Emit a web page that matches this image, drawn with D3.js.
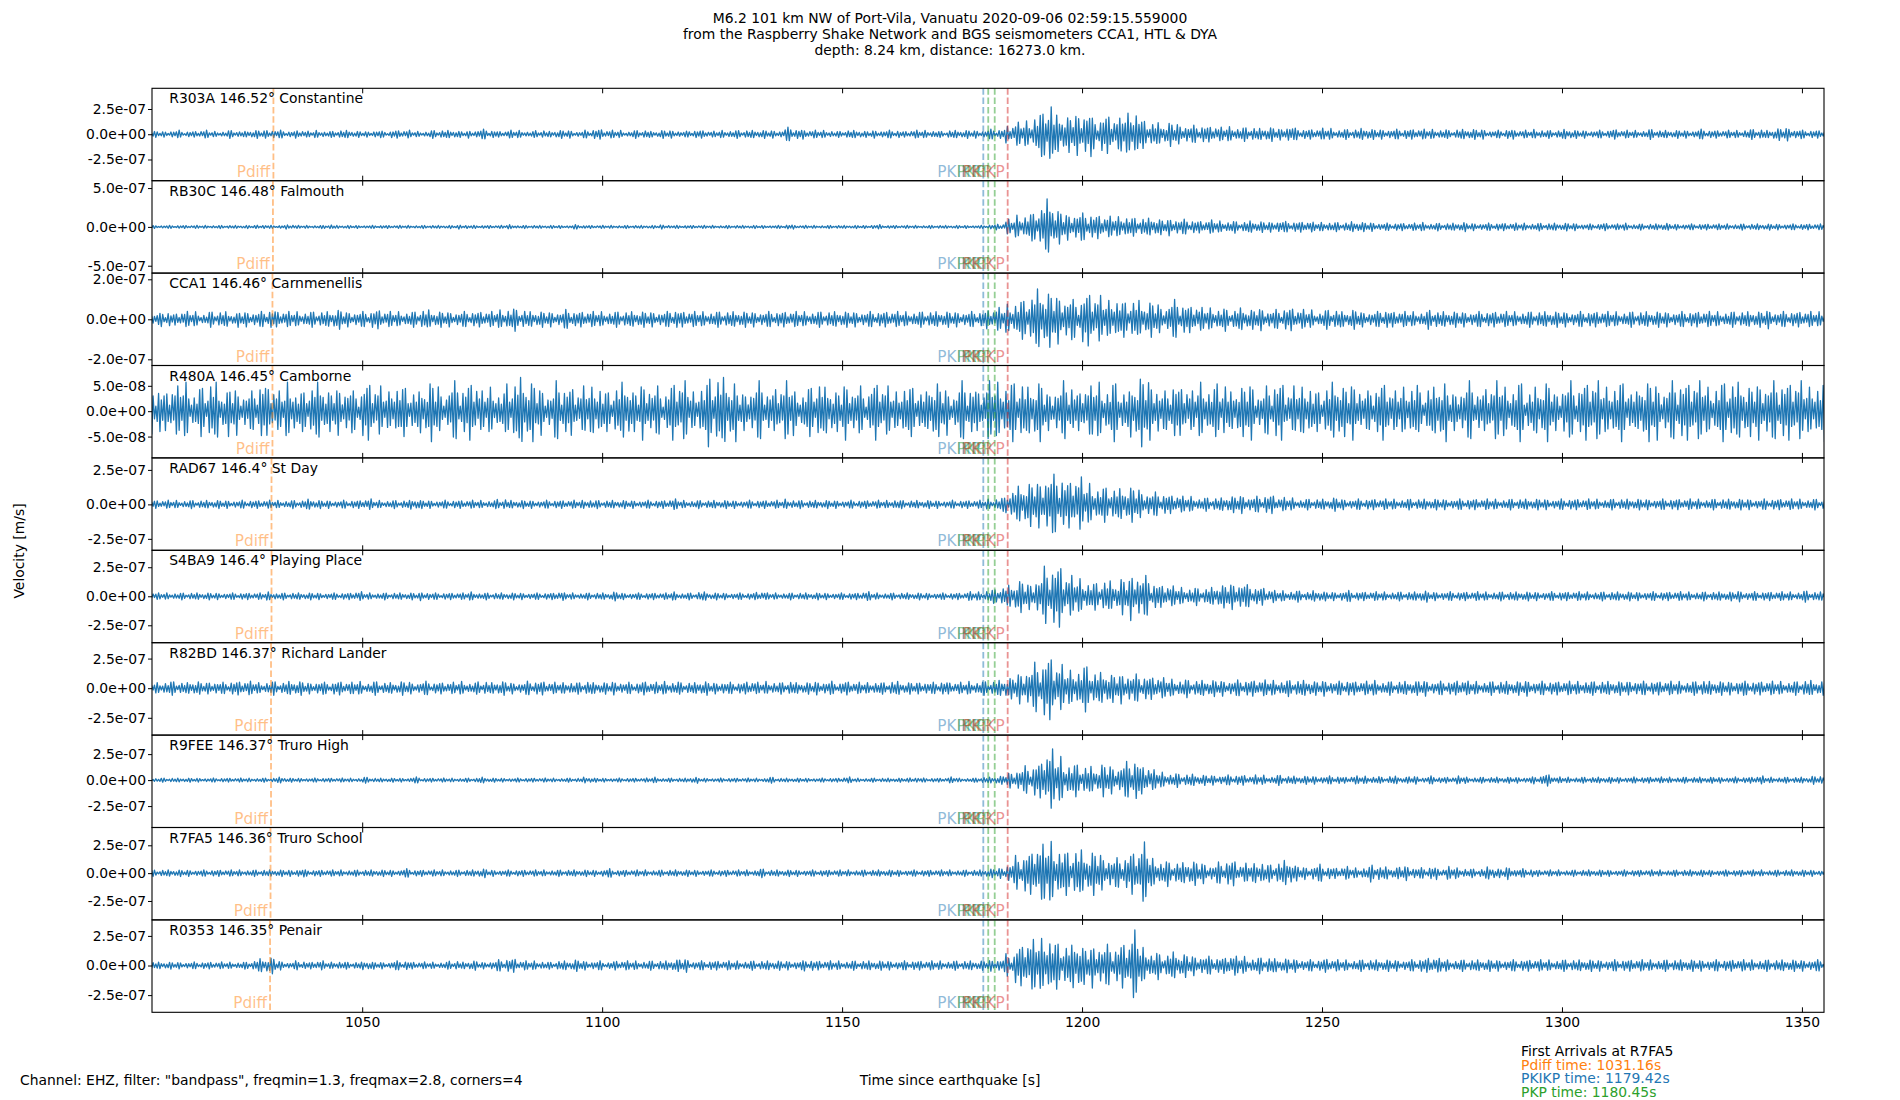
<!DOCTYPE html>
<html><head><meta charset="utf-8">
<script src="https://cdn.jsdelivr.net/npm/d3@7"></script>
<style>
body{margin:0;background:#fff;}
svg{display:block;}
text{font-family:"DejaVu Sans",sans-serif;}
</style>
</head><body>
<svg id="chart" width="1900" height="1100"></svg>
<script>
// ---------------- DATA ----------------
const titleLines = [
  "M6.2 101 km NW of Port-Vila, Vanuatu 2020-09-06 02:59:15.559000",
  "from the Raspberry Shake Network and BGS seismometers CCA1, HTL & DYA",
  "depth: 8.24 km, distance: 16273.0 km."
];
const stations  = ["R303A","RB30C","CCA1","R480A","RAD67","S4BA9","R82BD","R9FEE","R7FA5","R0353"];
const distances = ["146.52","146.48","146.46","146.45","146.4","146.4","146.37","146.37","146.36","146.35"];
const places    = ["Constantine","Falmouth","Carnmenellis","Camborne","St Day","Playing Place","Richard Lander","Truro High","Truro School","Penair"];
const pdiffTimes = [1031.5,1031.4,1031.3,1031.3,1031.1,1031.1,1031.0,1031.0,1030.9,1030.8];
const phaseNames = ["PKIKP","PKP","PKP","PKiKP"];
const phaseTimes = [1179.42,1180.45,1181.8,1184.5];
const phaseColors = ["#1f77b4","#2ca02c","#2ca02c","#d62728"];
// y-limits per panel (units of 1e-8 m/s)
const yMins = [-46,-59.5,-23.1,-9.2,-33.3,-40,-39.6,-45.6,-42,-39.5];
const yMaxs = [45.5,59.5,23.1,9.0,33.7,39.6,38.4,43.3,41,38.5];
// y tick values per panel (m/s)
const yTicks = [
  [-2.5e-7,0,2.5e-7],[-5e-7,0,5e-7],[-2e-7,0,2e-7],[-5e-8,0,5e-8],[-2.5e-7,0,2.5e-7],
  [-2.5e-7,0,2.5e-7],[-2.5e-7,0,2.5e-7],[-2.5e-7,0,2.5e-7],[-2.5e-7,0,2.5e-7],[-2.5e-7,0,2.5e-7]
];
const xTicks = [1050,1100,1150,1200,1250,1300,1350];
const timeStart = 1006.2, timeEnd = 1354.6, binStart = 1006, binSeconds = 2, peaksPerBin = 7;
// relative peak heights of successive half-cycles (wave-packet texture)
const peakShape = [0.35,0.6,0.9,1.0,0.75,0.45,0.3,0.5,0.8,0.95,0.7,0.4,0.25,0.3,0.55,0.65,0.5,0.35,0.6,
  0.85,1.0,0.9,0.6,0.3,0.2,0.4,0.7,0.8,0.55,0.45,0.75,0.95,0.85,0.5,0.3,0.45,0.65];
// trace envelope amplitude per 2 s bin, units of 1e-8 m/s
const env_R303A = [3,3,4,3,3,4,3,3,4,3, 4,4,5,4,3,4,3,4,3,4, 4,3,3,4,3,4,4,3,3,4, 4,4,3,4,5,4,3,4,4,3,
 4,3,4,4,3,4,5,4,4,3, 4,4,3,4,4,3,4,4,3,4, 4,4,4,4,4,4,7,5,4,4, 4,3,4,4,3,4,4,4,3,4,
 4,4,3,4,4,4,4,5,5,9, 12,14,22,34,20,18,22,26,16,20, 16,22,28,14,12,10,12,10,9,9, 8,7,8,7,7,6,7,6,9,6,
 5,5,6,5,5,5,6,5,5,5, 5,5,5,5,5,4,5,5,5,4, 4,5,4,4,5,4,4,5,4,4, 4,4,5,4,4,4,5,4,4,4,
 4,5,4,4,4,4,5,5,4,6, 7,5,4,4,4];
const env_RB30C = [2,2,2,2,2,2,2,2,2,2, 2,3,2,2,3,2,2,2,3,2, 2,2,2,2,2,2,2,2,2,2, 2,2,3,2,2,2,2,3,2,2,
 2,2,2,2,3,2,2,2,2,2, 2,2,2,3,2,2,2,2,2,2, 2,2,2,2,2,2,3,2,2,2, 2,2,2,2,2,3,2,2,2,2,
 2,2,2,2,2,2,2,3,4,10, 16,18,26,38,22,18,20,18,16,14, 14,16,12,12,12,10,12,10,9,8, 9,8,8,7,8,7,7,9,7,7,
 7,6,7,6,6,7,6,6,5,5, 5,5,6,5,5,5,6,5,5,5, 5,5,5,5,5,5,5,5,5,4, 4,5,4,5,4,4,4,5,4,4,
 4,4,4,4,4,4,4,4,4,4, 4,4,4,4,4];
const env_CCA1 = [3,4,3,4,4,3,4,4,3,4, 4,4,5,4,4,4,4,4,4,5, 4,4,4,5,4,4,4,4,5,4, 4,4,4,4,4,4,5,6,5,4,
 4,4,4,5,4,4,4,4,4,4, 4,4,4,4,5,4,4,4,4,4, 4,4,4,4,4,4,4,4,4,4, 4,4,4,4,4,4,4,4,4,4,
 4,4,4,4,4,4,4,5,6,8, 10,12,16,14,13,12,10,14,12,10, 12,9,10,8,9,7,10,8,7,6, 6,6,5,6,5,6,5,5,6,5,
 5,4,5,5,4,5,4,4,5,4, 4,4,4,5,4,4,4,4,4,4, 4,4,4,4,4,4,4,4,4,4, 4,4,4,4,4,4,4,4,4,4,
 4,4,4,4,4,4,4,4,5,4, 4,4,4,4,4];
const env_R480A = [5,4,5,6,4,5,6,4,5,4, 4,6,5,4,6,4,5,6,4,5, 5,4,6,5,4,6,5,4,5,6, 4,6,5,6,4,5,4,6,7,6,
 5,4,6,5,4,5,6,4,5,6, 4,6,5,4,6,6,4,6,7,7, 6,4,5,6,4,5,6,4,5,6, 5,4,6,5,4,6,5,4,6,5,
 4,6,5,4,6,5,4,6,6,6, 6,5,6,4,5,6,4,5,6,5, 6,4,6,7,6,4,6,5,4,6, 5,6,4,5,6,4,5,6,4,5,
 6,4,5,6,5,6,4,5,6,4, 5,6,4,5,6,4,5,6,4,5, 6,5,6,4,5,6,4,6,5,6, 6,5,6,6,4,6,6,5,6,6,
 6,6,5,6,6,6,5,6,6,6, 6,6,5,6,6];
const env_RAD67 = [3,3,3,3,3,3,3,3,3,3, 3,3,3,3,3,3,4,3,3,3, 3,3,4,3,3,3,3,4,3,3, 3,3,3,3,3,3,4,3,3,3,
 3,3,3,3,3,4,3,3,3,3, 3,3,3,3,4,3,3,3,3,3, 3,3,3,3,3,3,4,3,3,3, 3,3,3,3,3,3,3,4,3,3,
 3,3,3,3,3,3,3,4,5,10, 14,16,18,24,22,18,20,16,14,13, 12,12,13,10,9,8,7,6,6,5, 5,5,6,7,6,6,7,5,5,4,
 4,4,4,5,4,4,4,4,4,4, 4,4,4,4,4,4,4,4,4,4, 4,4,4,4,4,4,4,4,4,4, 4,4,4,4,4,4,4,4,4,4,
 4,4,4,4,4,4,4,4,4,4, 4,4,4,4,4];
const env_S4BA9 = [3,3,3,3,3,3,3,3,3,3, 3,3,4,3,3,3,3,3,3,3, 3,4,3,3,3,3,3,3,4,3, 3,3,3,4,3,3,3,3,3,3,
 3,3,4,3,3,3,3,3,4,3, 3,3,3,3,4,3,3,4,3,3, 3,3,3,4,3,3,3,3,3,3, 3,3,3,3,4,3,3,3,3,3,
 3,3,3,3,3,4,4,6,8,10, 14,12,18,26,28,18,16,14,12,14, 12,16,22,18,12,10,9,8,8,7, 8,10,12,13,10,8,6,5,5,5,
 4,5,4,4,5,4,4,4,4,4, 4,4,5,4,4,4,4,4,4,4, 4,4,4,4,4,4,4,4,4,4, 4,4,4,4,4,4,4,4,4,4,
 4,4,4,4,4,5,4,4,4,4, 4,4,5,4,4];
const env_R82BD = [5,6,6,5,6,5,6,5,6,6, 6,5,6,5,6,6,5,6,5,6, 5,6,5,6,5,5,6,5,6,5, 5,5,6,5,6,5,6,5,5,6,
 6,5,5,6,5,6,5,5,6,5, 5,6,5,6,6,5,5,6,5,6, 5,5,6,5,6,5,6,5,5,6, 6,5,6,5,5,6,5,6,5,5,
 6,5,6,5,5,6,6,6,7,9, 14,18,22,28,20,16,18,20,14,14, 12,14,12,11,10,9,8,8,7,7, 7,7,7,7,7,7,7,7,7,7,
 7,6,7,6,7,6,6,7,6,6, 6,6,7,6,6,6,7,6,6,6, 6,6,6,7,6,6,6,6,6,7, 6,6,6,6,7,6,6,6,6,6,
 6,7,6,6,6,7,6,6,6,6, 6,6,7,6,6];
const env_R9FEE = [2,2,2,2,2,2,2,2,2,2, 2,2,2,3,2,2,2,2,2,2, 2,2,3,2,2,2,2,3,2,2, 2,2,2,2,3,2,2,2,2,2,
 2,2,2,2,2,3,2,2,2,2, 2,2,3,2,2,2,3,2,2,2, 2,2,2,2,3,2,2,2,2,2, 2,2,3,2,2,2,2,2,2,3,
 2,2,2,3,2,2,3,3,4,8, 12,14,18,30,24,18,16,14,12,16, 14,18,22,14,10,8,7,6,6,5, 5,5,5,5,4,5,4,5,4,4,
 4,4,4,4,3,4,4,4,3,4, 3,4,3,4,3,3,4,3,3,3, 3,3,3,3,4,6,3,3,3,3, 3,3,3,3,3,3,3,3,3,3,
 3,3,3,3,3,3,3,4,3,3, 3,3,3,4,3];
const env_R7FA5 = [3,3,3,3,3,3,3,3,3,3, 3,3,3,3,3,4,3,3,3,3, 3,3,3,3,3,3,4,3,3,3, 3,3,3,3,4,3,3,3,3,3,
 3,3,3,3,3,3,3,4,3,3, 3,3,3,3,3,3,3,3,3,3, 3,3,3,4,3,3,3,3,3,3, 3,3,3,3,3,3,3,3,3,3,
 3,3,3,3,3,3,3,4,5,10, 16,20,26,30,26,20,22,18,20,16, 14,16,20,28,14,12,10,10,11,10, 8,10,12,8,9,12,8,10,12,7,
 6,8,6,5,6,5,6,8,6,5, 7,6,5,6,4,6,5,4,4,6, 4,6,4,4,3,3,3,3,3,3, 3,3,3,3,3,3,3,3,3,3,
 3,3,3,3,3,3,3,3,3,3, 3,3,3,3,3];
const env_R0353 = [3,3,3,3,3,3,3,3,3,3, 4,6,7,4,3,4,3,4,3,4, 3,3,4,3,3,4,4,3,3,3, 3,4,3,4,3,4,5,6,4,4,
 4,3,4,4,5,4,4,3,4,4, 4,4,4,4,5,6,4,4,4,4, 4,4,4,4,4,4,4,4,5,4, 4,4,4,4,4,4,4,4,4,4,
 4,4,4,4,4,4,4,5,6,10, 18,22,24,28,20,18,22,16,20,18, 16,20,30,16,12,10,12,10,9,9, 8,7,9,8,7,7,7,6,6,6,
 5,5,6,5,5,5,5,5,5,5, 5,5,6,7,6,5,5,5,5,5, 5,5,5,5,5,5,5,5,5,5, 5,5,5,5,5,5,5,5,5,5,
 5,5,5,5,5,5,5,5,5,5, 5,5,5,5,5];
const envelopes = [env_R303A,env_RB30C,env_CCA1,env_R480A,env_RAD67,env_S4BA9,env_R82BD,env_R9FEE,env_R7FA5,env_R0353];

const legendTitle = "First Arrivals at R7FA5";
const legendLines = ["Pdiff time: 1031.16s","PKIKP time: 1179.42s","PKP time: 1180.45s"];
const legendColors = ["#ff7f0e","#1f77b4","#2ca02c"];
const footerLeft = 'Channel: EHZ, filter: "bandpass", freqmin=1.3, freqmax=2.8, corners=4';
const xLabel = "Time since earthquake [s]";
const yLabel = "Velocity [m/s]";

// ---------------- LAYOUT ----------------
const W = 1900, H = 1100;
const mL = 152, mR = 1824, mT = 88.3, mB = 1012.3;
const nP = stations.length;
const ph = (mB - mT) / nP;
const traceColor = "#1f77b4";
const svg = d3.select("#chart");
svg.append("rect").attr("width",W).attr("height",H).attr("fill","#fff");

const x = d3.scaleLinear().domain([timeStart,timeEnd]).range([mL,mR]);

function sci(v){
  if (v === 0) return "0.0e+00";
  const s = v.toExponential(1);
  const parts = s.split("e");
  const e = parseInt(parts[1],10);
  const ae = Math.abs(e);
  return parts[0] + "e" + (e < 0 ? "-" : "+") + (ae < 10 ? "0" + ae : ae);
}

titleLines.forEach((t,i)=>{
  svg.append("text").attr("x",950).attr("y",23 + i*16).attr("text-anchor","middle")
    .attr("font-size","13.9px").attr("fill","#000").text(t);
});

const defs = svg.append("defs");

stations.forEach((st,p)=>{
  const y0 = mT + p*ph, y1 = y0 + ph;
  const y = d3.scaleLinear().domain([yMins[p]*1e-8, yMaxs[p]*1e-8]).range([y1,y0]);
  const g = svg.append("g");
  defs.append("clipPath").attr("id","clip"+p).append("rect")
    .attr("x",mL).attr("y",y0).attr("width",mR-mL).attr("height",ph);

  const env = envelopes[p];
  const pts = [];
  let idx = p*7;
  pts.push([binStart, 0]);
  env.forEach((a,i)=>{
    for (let k=0;k<peaksPerBin;k++){
      const t = binStart + i*binSeconds + (k+0.5)*binSeconds/peaksPerBin;
      const sgn = (idx % 2 === 0) ? 1 : -1;
      const v = sgn * a * peakShape[idx % peakShape.length] * 1e-8;
      pts.push([t, v]);
      idx++;
    }
  });
  const line = d3.line().x(d=>x(d[0])).y(d=>y(d[1]));
  g.append("path").attr("d", line(pts)).attr("fill","none")
    .attr("stroke",traceColor).attr("stroke-width",1.3)
    .attr("stroke-linejoin","round")
    .attr("clip-path","url(#clip"+p+")");

  const lines = [{t:pdiffTimes[p], c:"#ff7f0e", name:"Pdiff"}];
  phaseTimes.forEach((t,i)=>lines.push({t:t, c:phaseColors[i], name:phaseNames[i]}));
  lines.forEach(L=>{
    g.append("line").attr("x1",x(L.t)).attr("x2",x(L.t)).attr("y1",y0).attr("y2",y1)
      .attr("stroke",L.c).attr("stroke-opacity",0.5).attr("stroke-width",1.8)
      .attr("stroke-dasharray","6.5,2.8");
  });
  lines.forEach(L=>{
    g.append("text").attr("x",x(L.t)-3).attr("y",y1-4).attr("text-anchor","end")
      .attr("font-size","15.3px").attr("fill",L.c).attr("fill-opacity",0.5).text(L.name);
  });

  g.append("text").attr("x",169.3).attr("y",y0+15).attr("font-size","13.9px")
    .attr("fill","#000").text(st + " " + distances[p] + "\u00b0 " + places[p]);

  const ya = d3.axisLeft(y).tickValues(yTicks[p]).tickSize(4).tickPadding(2).tickSizeOuter(0).tickFormat(sci);
  const yg = g.append("g").attr("transform","translate("+mL+",0)").call(ya);
  yg.select(".domain").remove();
  yg.selectAll("text").attr("font-size","13.9px").attr("font-family","DejaVu Sans").attr("fill","#000");
  yg.selectAll("line").attr("stroke","#000").attr("stroke-width",1);

  const xt = d3.axisTop(x).tickValues(xTicks).tickSize(-5).tickSizeOuter(0).tickFormat("");
  const xtg = g.append("g").attr("transform","translate(0,"+y0+")").call(xt);
  xtg.select(".domain").remove();
  xtg.selectAll("line").attr("stroke","#000").attr("stroke-width",1);
  const xb = d3.axisBottom(x).tickValues(xTicks).tickSize(-5).tickSizeOuter(0)
    .tickFormat(p === nP-1 ? d3.format("d") : "");
  const xbg = g.append("g").attr("transform","translate(0,"+y1+")").call(xb);
  xbg.select(".domain").remove();
  xbg.selectAll("line").attr("stroke","#000").attr("stroke-width",1);
  xbg.selectAll("text").attr("font-size","13.9px").attr("font-family","DejaVu Sans")
    .attr("fill","#000").attr("y",5).attr("dy","0.71em");

  g.append("rect").attr("x",mL).attr("y",y0).attr("width",mR-mL).attr("height",ph)
    .attr("fill","none").attr("stroke","#000").attr("stroke-width",1.1);
});

svg.append("text").attr("transform","translate(19,551) rotate(-90)").attr("text-anchor","middle")
  .attr("dy","0.35em").attr("font-size","13.9px").attr("fill","#000").text(yLabel);

svg.append("text").attr("x",20).attr("y",1085).attr("font-size","13.9px").attr("fill","#000").text(footerLeft);
svg.append("text").attr("x",950).attr("y",1085).attr("text-anchor","middle").attr("font-size","13.9px").attr("fill","#000").text(xLabel);

svg.append("text").attr("x",1521).attr("y",1056).attr("font-size","13.9px").attr("fill","#000").text(legendTitle);
legendLines.forEach((t,i)=>{
  svg.append("text").attr("x",1521).attr("y",1069.7 + i*13.6).attr("font-size","13.9px")
    .attr("fill",legendColors[i]).text(t);
});
</script>
</body></html>
